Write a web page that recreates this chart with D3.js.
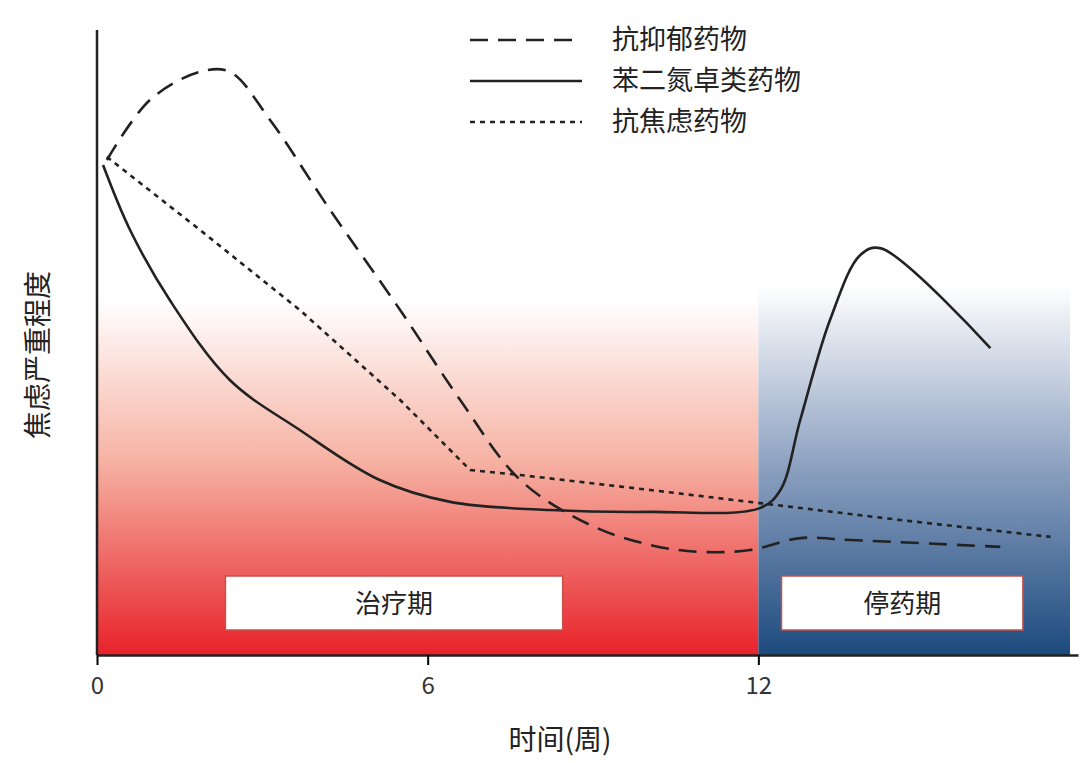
<!DOCTYPE html>
<html><head><meta charset="utf-8">
<script src="https://cdn.jsdelivr.net/npm/d3@7"></script>
<style>body{margin:0;background:#fff}text{font-family:"Noto Sans CJK SC","Noto Sans",sans-serif}</style>
</head><body><svg id="c" width="1080" height="763"></svg>
<script>
const weeksTicks = [0, 6, 12];
const legendNames = ["抗抑郁药物", "苯二氮卓类药物", "抗焦虑药物"];
const phases = ["治疗期", "停药期"];
const antidepressant = [[0.18,79.2],[0.96,88.8],[1.87,93.3],[2.41,93.3],[3.14,85.6],[4.23,71.2],[5.5,55.2],[6.59,40.8],[7.68,28],[8.95,20.8],[10.04,17.6],[10.94,16.5],[11.85,16.8],[12.76,18.7],[13.67,18.4],[16.39,17.3]];
const benzo = [[0.11,78.4],[0.6,68],[1.32,56.8],[2.41,44],[3.68,36],[5.13,28],[6.41,24.5],[8.22,23.2],[10.04,22.9],[12.03,23.5],[12.4,26.4],[12.76,37.6],[13.3,53.6],[13.85,64],[14.21,65.1],[16.21,49.1]];
const anxiolytic = [[0.18,79.7],[1.87,68],[3.68,55.2],[5.5,40.8],[6.77,29.6],[7.68,28.8],[10.04,26.4],[12.03,24.3],[14.57,21.6],[17.3,18.9]];

const svg = d3.select("#c");
const x = d3.scaleLinear().domain([0, 17.8]).range([97, 1078]);
const y = d3.scaleLinear().domain([0, 100]).range([655, 30]);

const defs = svg.append("defs");
const rg = defs.append("linearGradient").attr("id", "red").attr("x1", 0).attr("x2", 0).attr("y1", 0).attr("y2", 1);
rg.append("stop").attr("offset", 0).attr("stop-color", "#fff");
rg.append("stop").attr("offset", 0.45).attr("stop-color", "#f6b3a4");
rg.append("stop").attr("offset", 1).attr("stop-color", "#e8222a");
const bg = defs.append("linearGradient").attr("id", "blue").attr("x1", 0).attr("x2", 0).attr("y1", 0).attr("y2", 1);
bg.append("stop").attr("offset", 0).attr("stop-color", "#fff");
bg.append("stop").attr("offset", 0.5).attr("stop-color", "#8a9fbf");
bg.append("stop").attr("offset", 1).attr("stop-color", "#1c4a7e");

svg.append("rect").attr("x", x(0)).attr("y", 300).attr("width", x(12) - x(0)).attr("height", y(0) - 300).attr("fill", "url(#red)");
svg.append("rect").attr("x", x(12)).attr("y", 285).attr("width", 1070 - x(12)).attr("height", y(0) - 285).attr("fill", "url(#blue)");

// phase boxes
[[2.33, 8.45, phases[0]], [12.42, 16.8, phases[1]]].forEach(([a, b, t]) => {
  svg.append("rect").attr("x", x(a)).attr("y", 576).attr("width", x(b) - x(a)).attr("height", 54)
    .attr("fill", "#fff").attr("stroke", "#c9504a").attr("stroke-width", 1.5);
  svg.append("text").attr("x", (x(a) + x(b)) / 2).attr("y", 613).attr("text-anchor", "middle")
    .attr("font-size", 26).attr("fill", "#222").text(t);
});

const line = d3.line().x(d => x(d[0])).y(d => y(d[1]));
const styles = [["18,10", d3.curveCatmullRom], [null, d3.curveCatmullRom], ["5,5", d3.curveLinear]];
[antidepressant, benzo, anxiolytic].forEach((s, i) => {
  svg.append("path").datum(s).attr("d", line.curve(styles[i][1])).attr("fill", "none").attr("stroke", "#222")
    .attr("stroke-width", 2.6).attr("stroke-dasharray", styles[i][0]);
});

// axes
svg.append("line").attr("x1", x(0)).attr("x2", x(0)).attr("y1", 30).attr("y2", y(0)).attr("stroke", "#222").attr("stroke-width", 2.5);
svg.append("g").attr("transform", `translate(0,${y(0)})`)
  .call(d3.axisBottom(x).tickValues(weeksTicks).tickSize(10).tickSizeOuter(0).tickFormat(d3.format("d")))
  .call(g => g.select(".domain").attr("stroke-width", 2.5).attr("stroke", "#222"))
  .call(g => g.selectAll(".tick line").attr("stroke-width", 2))
  .call(g => g.selectAll("text").attr("font-size", 24).attr("fill", "#333").attr("dy", "1.1em"));

svg.append("text").attr("x", 560).attr("y", 750).attr("text-anchor", "middle").attr("font-size", 28).attr("fill", "#222").text("时间(周)");
svg.append("text").attr("transform", "translate(48,355) rotate(-90)").attr("text-anchor", "middle").attr("font-size", 28).attr("fill", "#222").text("焦虑严重程度");

// legend
legendNames.forEach((n, i) => {
  const ly = 40 + i * 41;
  svg.append("line").attr("x1", 470).attr("x2", 582).attr("y1", ly).attr("y2", ly)
    .attr("stroke", "#222").attr("stroke-width", 2.6).attr("stroke-dasharray", styles[i][0]);
  svg.append("text").attr("x", 612).attr("y", ly + 9).attr("font-size", 27).attr("fill", "#222").text(n);
});
</script></body></html>
